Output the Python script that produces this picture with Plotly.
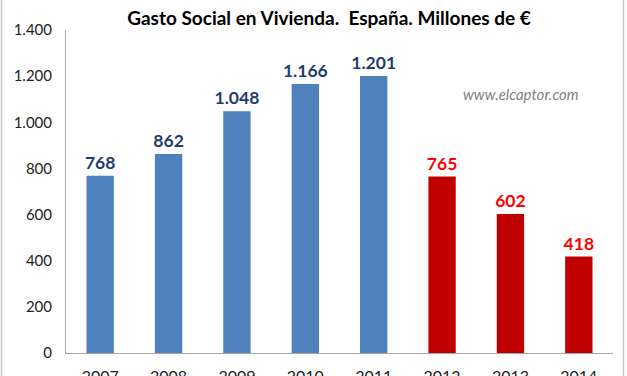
import plotly.graph_objects as go

years = ["2007", "2008", "2009", "2010", "2011", "2012", "2013", "2014"]
values = [768, 862, 1048, 1166, 1201, 765, 602, 418]
bar_colors = ["#4F81BD"] * 5 + ["#C00000"] * 3
label_colors = ["#1F3C6E"] * 5 + ["#FF0000"] * 3
ytick_vals = [0, 200, 400, 600, 800, 1000, 1200, 1400]
ytick_text = ["0", "200", "400", "600", "800", "1.000", "1.200", "1.400"]
title = "Gasto Social en Vivienda.  España. Millones de €"
watermark = "www.elcaptor.com"

FONT = "Lato, Open Sans, sans-serif"

fig = go.Figure()
fig.add_trace(go.Bar(
    x=years, y=values,
    marker=dict(color=bar_colors, line=dict(width=0)),
    texttemplate="<b>%{y:,}</b>",
    textposition="outside",
    constraintext="none",
    cliponaxis=False,
    textfont=dict(family=FONT, size=17.5, color=label_colors),
    width=0.4,
))

W, H = 627, 376
L, R, T, B = 66, 14, 30, 23
pw = W - L - R
ph = H - T - B

fig.update_layout(
    width=W, height=H,
    margin=dict(l=L, r=R, t=T, b=B, autoexpand=False),
    paper_bgcolor="white", plot_bgcolor="white",
    separators=",.",
    showlegend=False,
    uniformtext=dict(mode=False),
    title=dict(text="<b>" + title + "</b>", x=329 / W, xanchor="center", xref="container",
               y=1 - 18 / H, yanchor="middle", yref="container",
               font=dict(family=FONT, size=19, color="black")),
    xaxis=dict(showline=True, linecolor="#A6A6A6", linewidth=1, showgrid=False,
               ticks="", tickfont=dict(family=FONT, size=16, color="#222"),
               ticklabelstandoff=9, fixedrange=True, automargin=False),
    yaxis=dict(range=[0, 1400], tickvals=ytick_vals, ticktext=ytick_text,
               showline=True, linecolor="#A6A6A6", linewidth=1, showgrid=False,
               ticks="", ticklabelstandoff=10,
               tickfont=dict(family=FONT, size=15, color="#222"),
               zeroline=False, fixedrange=True, automargin=False),
    bargap=0.6,
    annotations=[dict(text="<i>" + watermark + "</i>",
                      x=(521 - L) / pw, y=(H - B - 94) / ph,
                      xref="paper", yref="paper", showarrow=False,
                      xanchor="center", yanchor="middle",
                      font=dict(family=FONT, size=15, color="#808080"))],
    shapes=[
        dict(type="line", xref="paper", yref="paper",
             x0=(1.5 - L) / pw, x1=(1.5 - L) / pw, y0=-1, y1=2,
             line=dict(color="#C8C8C8", width=1.5)),
        dict(type="line", xref="paper", yref="paper",
             x0=(623.5 - L) / pw, x1=(623.5 - L) / pw, y0=-1, y1=2,
             line=dict(color="#C8C8C8", width=1.5)),
    ],
)

fig.write_html("out.html", config={"displayModeBar": False},
               post_script="document.body.style.margin='0';")
